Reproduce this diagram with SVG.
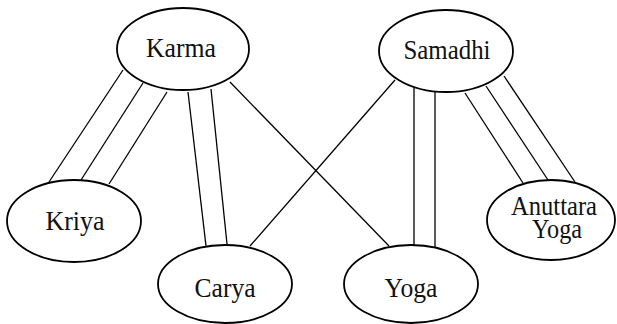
<svg xmlns="http://www.w3.org/2000/svg" width="617" height="324" viewBox="0 0 617 324">
<style>
.n ellipse{fill:#fff;stroke:#000;stroke-width:1.8}
.n text{font-family:"Liberation Serif","Times New Roman",serif;font-size:28px;fill:#111;text-anchor:middle}
#edges line{stroke:#000;stroke-width:1.3}
</style>
<rect width="617" height="324" fill="#fff"/>
<g id="edges">
<line x1="123" y1="70" x2="49" y2="182"/>
<line x1="143" y1="83" x2="81" y2="180"/>
<line x1="167" y1="92" x2="109" y2="184"/>
<line x1="188" y1="92" x2="206" y2="246"/>
<line x1="211" y1="89" x2="227" y2="244"/>
<line x1="230" y1="82" x2="389" y2="246"/>
<line x1="395" y1="80" x2="250" y2="246"/>
<line x1="414" y1="88" x2="414" y2="245"/>
<line x1="435" y1="92" x2="435" y2="247"/>
<line x1="465" y1="93" x2="523" y2="183"/>
<line x1="486" y1="86" x2="548" y2="180"/>
<line x1="504" y1="76" x2="575" y2="182"/>
</g>
<g id="karma" class="n"><ellipse cx="183" cy="49" rx="66" ry="41"/><text x="181" y="57" textLength="70" lengthAdjust="spacingAndGlyphs">Karma</text></g>
<g id="samadhi" class="n"><ellipse cx="446" cy="51" rx="67" ry="41"/><text x="447" y="59" textLength="87" lengthAdjust="spacingAndGlyphs">Samadhi</text></g>
<g id="kriya" class="n"><ellipse cx="74" cy="221" rx="67" ry="41"/><text x="75" y="230" textLength="59" lengthAdjust="spacingAndGlyphs">Kriya</text></g>
<g id="carya" class="n"><ellipse cx="225" cy="284" rx="67" ry="39"/><text x="225" y="297" textLength="61" lengthAdjust="spacingAndGlyphs">Carya</text></g>
<g id="yoga" class="n"><ellipse cx="411" cy="284" rx="67" ry="39"/><text x="411" y="297" textLength="53" lengthAdjust="spacingAndGlyphs">Yoga</text></g>
<g id="anuttara" class="n"><ellipse cx="551" cy="220" rx="64" ry="40"/><text x="554" y="215" font-size="26" textLength="86" lengthAdjust="spacingAndGlyphs">Anuttara</text><text x="557" y="238" font-size="26" textLength="50" lengthAdjust="spacingAndGlyphs">Yoga</text></g>
</svg>
